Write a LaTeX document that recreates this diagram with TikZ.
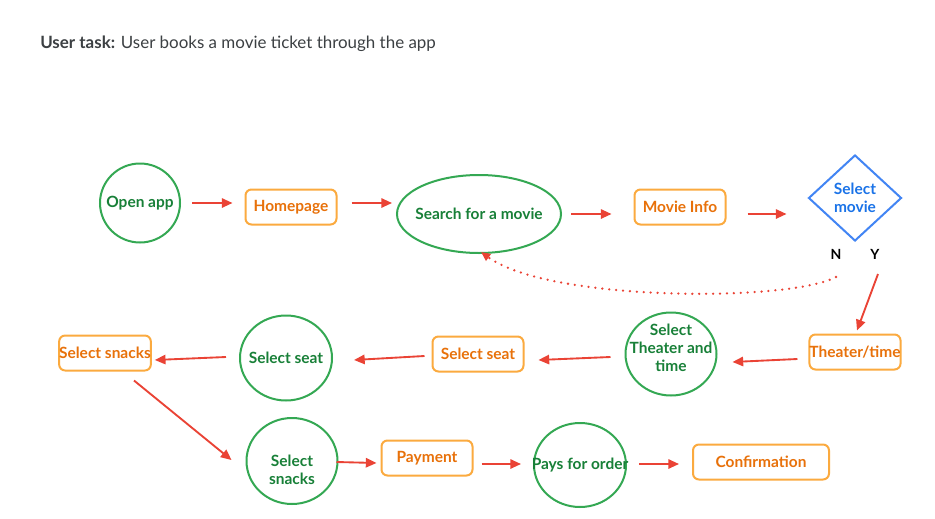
\documentclass[tikz,border=0pt]{standalone}
\usepackage{fontspec}
\setmainfont{Lato}
\usetikzlibrary{shapes.geometric,arrows.meta}
\definecolor{gborder}{HTML}{34A853}
\definecolor{gtext}{HTML}{188038}
\definecolor{oborder}{HTML}{FBAA3F}
\definecolor{otext}{HTML}{E8710A}
\definecolor{rline}{HTML}{EA4335}
\definecolor{bborder}{HTML}{4285F4}
\definecolor{btext}{HTML}{1A73E8}
\definecolor{ttext}{HTML}{3C4043}
\newcommand{\stk}[2]{\raisebox{#1}[0pt][0pt]{\begin{tabular}{@{}c@{}}#2\end{tabular}}}
\tikzset{
  px/.style={x=0.75pt,y=-0.75pt},
  lbl/.style={font=\bfseries\fontsize{11.6}{13.2}\selectfont},
  circ/.style={ellipse,draw=gborder,line width=1.5pt,text=gtext,lbl,align=center,inner sep=-12pt},
  obox/.style={rectangle,rounded corners=4.5pt,draw=oborder,line width=1.5pt,text=otext,lbl,inner sep=0pt,minimum width=68.25pt,minimum height=26.25pt},
  arr/.style={draw=rline,line width=1.4pt,-{Triangle[length=8pt,width=7pt]}},
  dotarr/.style={draw=rline,line width=1.9pt,line cap=round,dash pattern=on 0pt off 5.2pt,-{Triangle[length=7pt,width=6pt]}},
  yn/.style={font=\bfseries\fontsize{10.5}{12}\selectfont,text=black}
}
\begin{document}
\begin{tikzpicture}[px]
\useasboundingbox (0,0) rectangle (935,518);
\fill[white] (0,0) rectangle (935,518);
\node[anchor=west,inner sep=0pt,text=ttext,font=\fontsize{12.7}{14}\selectfont] (title) at (40,44) {\textbf{User task:} User books a movie ticket through the app};
% row 1
\node[circ,minimum width=60pt,minimum height=59.25pt] (open) at (140,203) {Open app};
\node[obox] (home) at (291,207) {Homepage};
\node[circ,minimum width=123pt,minimum height=58.5pt] (search) at (479,214) {Search for a movie};
\node[obox] (movie) at (680,207) {Movie Info};
\node[diamond,draw=bborder,line width=1.5pt,text=btext,lbl,align=center,inner sep=-14pt,minimum width=69.75pt,minimum height=64.5pt] (sel) at (855,198) {Select\\movie};
\node[yn] (n) at (836,254) {N};
\node[yn] (y) at (875,254) {Y};
\coordinate (nstart) at (836,277);
\coordinate (ystart) at (878,274);
% row 2
\node[obox] (tt) at (855,352) {Theater/time};
\node[circ,minimum width=68.25pt,minimum height=62.25pt] (sth) at (671,354) {\stk{0pt}{Select\\Theater and\\time}};
\node[obox] (seatr) at (478,354) {Select seat};
\node[circ,minimum width=69pt,minimum height=63.75pt] (seatc) at (286,358) {Select seat};
\node[obox] (snr) at (105,353) {Select snacks};
% row 3
\node[circ,minimum width=68.25pt,minimum height=64.5pt] (snc) at (292,461) {\stk{-11.2pt}{Select\\snacks}};
\node[obox] (pay) at (427,458) {Payment};
\node[circ,minimum width=69pt,minimum height=63pt] (pays) at (580,465) {Pays for order};
\node[obox,minimum width=102pt] (conf) at (761,462) {Confirmation};
% arrows
\draw[arr] ([shift={(11,0)}]open.east) -- ([shift={(-12,-4)}]home.west);
\draw[arr] ([shift={(14,-4)}]home.east) -- ([shift={(-4,-11)}]search.west);
\draw[arr] ([shift={(9,0)}]search.east) -- ([shift={(-22,7)}]movie.west);
\draw[arr] ([shift={(21,7)}]movie.east) -- ([shift={(-21,16)}]sel.west);
\draw[dotarr] (nstart) .. controls (790,302) and (550,302) .. ([shift={(2,-2)}]search.south);
\draw[arr] (ystart) -- ([shift={(2,-3)}]tt.north);
\draw[arr] ([shift={(-11,7)}]tt.west) -- ([shift={(15,8)}]sth.east);
\draw[arr] ([shift={(-14,3)}]sth.west) -- ([shift={(14,6)}]seatr.east);
\draw[arr] ([shift={(-7,2)}]seatr.west) -- ([shift={(21,2)}]seatc.east);
\draw[arr] ([shift={(-13,-1)}]seatc.west) -- ([shift={(3,7)}]snr.east);
\draw[arr] ([shift={(29,9)}]snr.south) -- ([shift={(-14,-1)}]snc.west);
\draw[arr] ([shift={(-2,1)}]snc.east) -- ([shift={(-4,5)}]pay.west);
\draw[arr] ([shift={(8,6)}]pay.east) -- ([shift={(-12,-1)}]pays.west);
\draw[arr] ([shift={(12,-1)}]pays.east) -- ([shift={(-13,2)}]conf.west);
\end{tikzpicture}
\end{document}
